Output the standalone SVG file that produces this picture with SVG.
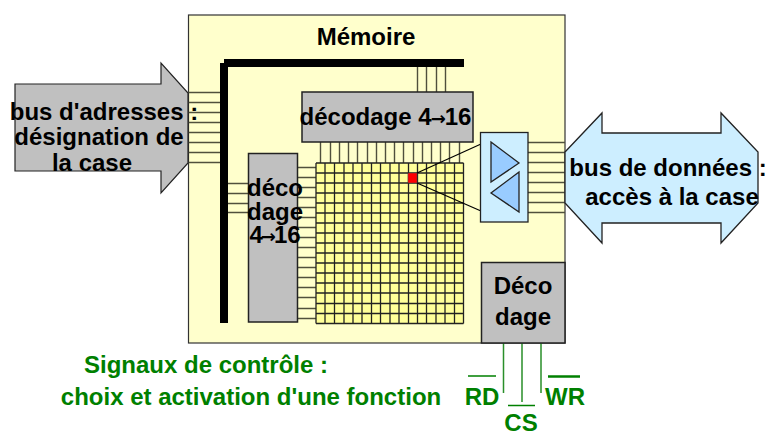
<svg xmlns="http://www.w3.org/2000/svg" width="765" height="432" viewBox="0 0 765 432">
<style>
text{font-family:"Liberation Sans",Arial,sans-serif;font-weight:bold;font-size:24px;fill:#000;text-anchor:middle}
.g{fill:#008000}
.ar{font-family:"DejaVu Sans",sans-serif;font-size:18px}
.w{stroke:#50503c;stroke-width:1.400;fill:none}
.k{stroke:#000;stroke-width:1.200;fill:none}
.gl{stroke:#2a8f2a;stroke-width:1.500;fill:none}
.grey{fill:#c0c0c0;stroke:#222;stroke-width:1.500}
.blue{fill:#cdeeff;stroke:#222;stroke-width:1.300}
.tri{fill:#99ccff;stroke:#222;stroke-width:1.300}
</style>
<g id="memoire">
<rect x="188.500" y="15" width="376.500" height="328" fill="#ffffcc" stroke="#333" stroke-width="1.200"/>
<text x="366" y="45">Mémoire</text>
</g>
<g id="connectors">
<path class="w" d="M188 92.500H221M188 102.500H221M188 112.500H221M188 122.500H221M188 132.500H221M188 142.500H221M188 152.500H221M188 162.500H221"/>
<path class="w" d="M227 183.500H249M227 193.500H249M227 203.500H249M227 212.500H249"/>
<path class="w" d="M417.500 67V92M426.500 67V92M436.500 67V92M445.500 67V92"/>
<path class="w" d="M320.500 142V163M330.500 142V163M339.500 142V163M348.500 142V163M357.500 142V163M367.500 142V163M376.500 142V163M385.500 142V163M394.500 142V163M403.500 142V163M413.500 142V163M422.500 142V163M431.500 142V163M440.500 142V163M449.500 142V163M459.500 142V163"/>
<path class="w" d="M297 167.500H316M297 177.500H316M297 187.500H316M297 197.500H316M297 207.500H316M297 217.500H316M297 227.500H316M297 237.500H316M297 247.500H316M297 257.500H316M297 267.500H316M297 277.500H316M297 287.500H316M297 297.500H316M297 308.500H316M297 318.500H316"/>
<path class="w" d="M528 142.500H565M528 152.500H565M528 162.500H565M528 172.500H565M528 182.500H565M528 192.500H565M528 202.500H565M528 212.500H565"/>
<path class="gl" d="M503.500 343V393M522 343V402M541 343V393"/>
</g>
<g id="bus-adresses">
<polygon points="15,84 161,84 161,63 188,93 188,163 161,193 161,171 15,171" fill="#c0c0c0" stroke="#222" stroke-width="1.200"/>
<text x="104" y="120">bus d'adresses :</text>
<text x="99" y="145">désignation de</text>
<text x="92" y="171">la case</text>
</g>
<g id="barres">
<rect x="220" y="63" width="8" height="260" fill="#000"/>
<rect x="224" y="59" width="240" height="8" fill="#000"/>
</g>
<g id="decodage-haut">
<rect class="grey" x="302" y="92" width="171" height="50"/>
<text x="385.500" y="125">décodage 4<tspan class="ar" font-weight="bold" dx="-1">→</tspan><tspan dx="-1">16</tspan></text>
</g>
<g id="matrice">
<rect x="316" y="163" width="147.500" height="160.500" fill="#ffff99"/>
<path d="M316 163H463.500M316 173H463.500M316 183H463.500M316 193H463.500M316 203H463.500M316 213H463.500M316 223H463.500M316 233H463.500M316 243H463.500M316 253H463.500M316 263H463.500M316 273H463.500M316 283H463.500M316 293H463.500M316 303.500H463.500M316 313.500H463.500M316 323.500H463.500M316 163V323.500M325 163V323.500M334.500 163V323.500M344 163V323.500M353 163V323.500M362 163V323.500M371.500 163V323.500M380.500 163V323.500M390 163V323.500M399 163V323.500M408.500 163V323.500M417.500 163V323.500M426.500 163V323.500M436 163V323.500M445 163V323.500M454.500 163V323.500M463.500 163V323.500" fill="none" stroke="#222" stroke-width="1.300"/>
<rect x="408" y="173" width="9" height="10" fill="#ff0000" stroke="#444" stroke-width="0.500"/>
<path class="k" d="M417 173L481 144M417 183L481 211"/>
</g>
<g id="decodage-gauche">
<rect class="grey" x="248.500" y="153.500" width="49" height="168.500"/>
<text x="275" y="196">déco</text>
<text x="275" y="220">dage</text>
<text x="275" y="243">4<tspan class="ar" font-weight="bold" dx="-2">→</tspan><tspan dx="-2">16</tspan></text>
</g>
<g id="tampons">
<rect class="blue" x="480.500" y="132.500" width="47.500" height="89.500"/>
<polygon class="tri" points="491,142 519,163 491,182"/>
<polygon class="tri" points="519,172 491,193 519,212"/>
</g>
<g id="bus-donnees">
<polygon class="blue" points="565,152 602,113 602,133 721,133 721,113 758,152 758,203 721,243 721,223 602,223 602,243 565,203"/>
<text x="668" y="176">bus de données :</text>
<text x="672" y="205">accès à la case</text>
</g>
<g id="decodage-controle">
<rect class="grey" x="481.500" y="262.500" width="83.500" height="80.500"/>
<text x="523" y="294">Déco</text>
<text x="523" y="325">dage</text>
</g>
<g id="signaux">
<text class="g" x="206" y="373">Signaux de contrôle :</text>
<text class="g" x="251" y="405">choix et activation d'une fonction</text>
<text class="g" x="482" y="405">RD</text>
<text class="g" x="521" y="431">CS</text>
<text class="g" x="565" y="405">WR</text>
<path stroke="#008000" fill="none" stroke-width="1.500" d="M468 376H496M508 405.500H535"/>
<path stroke="#008000" fill="none" stroke-width="2.500" d="M548 376.500H580"/>
</g>
</svg>
